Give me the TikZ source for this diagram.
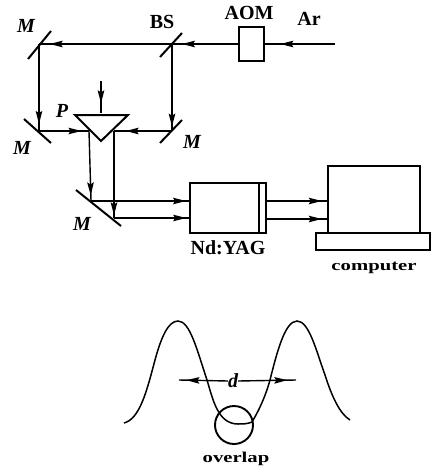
\documentclass[tikz,border=0pt]{standalone}
\usepackage{graphicx}
\usepackage{fontspec}
\setmainfont{Liberation Serif}
\usetikzlibrary{decorations.markings,arrows.meta}
\newcommand{\wide}[1]{\scalebox{1.38}[1]{#1}}
\tikzset{
 x=1pt,y=-1pt,
 ln/.style={line width=1.4pt,black},
 thk/.style={line width=2pt,black},
 beam/.style={ln,postaction={decorate},decoration={markings,mark=at position #1 with {\arrow[black]{Stealth[length=13pt,width=6.5pt,inset=2pt]}}}},
 box/.style={draw,line width=1.8pt,inner sep=0pt,fill=none},
 lab/.style={font=\fontsize{20}{20}\selectfont\bfseries,inner sep=0pt},
 mlab/.style={font=\fontsize{20}{20}\selectfont\bfseries\itshape,inner sep=0pt},
 small/.style={font=\fontsize{15}{15}\selectfont\bfseries,inner sep=0pt},
}
\begin{document}
\begin{tikzpicture}
\useasboundingbox (0,0) rectangle (434,471);
% coordinates
\coordinate (ar) at (335,44);
\coordinate (m1) at (39,44);
\coordinate (bs) at (172,44);
\coordinate (m2) at (39,131);
\coordinate (m3) at (172,131);
\coordinate (pl) at (89,131);
\coordinate (pr) at (114,131);
\coordinate (ptop) at (101,81);
\coordinate (ptip) at (101,113);
\coordinate (m4a) at (91,201);
\coordinate (m4b) at (114,218);
% boxes
\node[box,minimum width=25pt,minimum height=34pt] (aom) at (251.5,44) {};
\node[box,minimum width=76pt,minimum height=50pt] (yag) at (228,208) {};
\node[box,minimum width=92pt,minimum height=67pt] (scr) at (374,199.5) {};
\node[box,minimum width=114pt,minimum height=17pt] (base) at (373,241.5) {};
\draw[ln] (259,183) -- (259,233);
\coordinate (yagr1) at (266,201);
\coordinate (yagr2) at (266,219);
\coordinate (scr1) at (328,201);
\coordinate (scr2) at (328,219);
\coordinate (yagl1) at (190,201);
\coordinate (yagl2) at (190,218);
% mirrors
\draw[thk] (28,59) -- (51,31);
\draw[thk] (160,57) -- (182,33);
\draw[thk] (24,119) -- (51,143);
\draw[thk] (160,143) -- (182,120);
\draw[thk] (76,190) -- (121,226);
% prism
\draw[thk,line join=miter] (75,115) -- (128,115) -- (101,141) -- cycle;
% beams
\draw[beam=0.78] (ar) -- (aom.east);
\draw[beam=0.85] (aom.west) -- (bs);
\draw[beam=0.92] (bs) -- (m1);
\draw[beam=0.92] (m1) -- (m2);
\draw[beam=0.95] (bs) -- (m3);
\draw[beam=0.85] (m2) -- (pl);
\draw[beam=0.8] (m3) -- (pr);
\draw[beam=0.7] (ptop) -- (ptip);
\draw[beam=0.92] (pl) -- (m4a);
\draw[beam=0.97] (pr) -- (m4b);
\draw[beam=0.96] (m4a) -- (yagl1);
\draw[beam=0.95] (m4b) -- (yagl2);
\draw[beam=0.9] (yagr1) -- (scr1);
\draw[beam=0.9] (yagr2) -- (scr2);
% labels
\node[mlab] at (26,26) {M};
\node[lab] at (162,22) {BS};
\node[lab] at (249,13) {AOM};
\node[lab] at (309,19) {Ar};
\node[mlab] at (62,111) {P};
\node[mlab] at (22,148) {M};
\node[mlab] at (192,142) {M};
\node[mlab] at (82,224) {M};
\node[lab] at (228,248) {Nd:YAG};
\node[small] at (374,268) {\wide{computer}};
% lower curves
\draw[line width=1.5pt] (124,423) .. controls (140,419) and (147,390) .. (155,360)
 .. controls (161,338) and (168,321) .. (178,321)
 .. controls (190,321) and (197,350) .. (207,380)
 .. controls (213,400) and (218,424) .. (238,424)
 .. controls (243,424) and (247,424) .. (252,422)
 .. controls (258,412) and (265,398) .. (270,380)
 .. controls (277,352) and (285,321) .. (297,321)
 .. controls (309,321) and (316,350) .. (325,375)
 .. controls (332,397) and (340,414) .. (350,420);
\node[mlab] (d) at (233,381) {d};
\coordinate (dl) at (179,380);
\coordinate (dr) at (296,380);
\draw[beam=0.85] (d.west) -- (dl);
\draw[beam=0.85] (d.east) -- (dr);
\draw[line width=1.9pt] (234,425) circle (19);
\node[small] at (236,459) {\wide{overlap}};
\end{tikzpicture}
\end{document}
